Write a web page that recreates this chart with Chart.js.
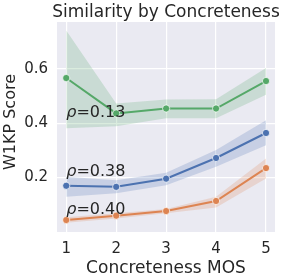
<!DOCTYPE html>
<html>
<head>
<meta charset="utf-8">
<script src="https://cdn.jsdelivr.net/npm/chart.js@4"></script>
<style>
  html, body { margin: 0; padding: 0; background: #fff; }
  #wrap { width: 293px; height: 278px; }
</style>
</head>
<body>
<div id="wrap"><canvas id="chart" width="293" height="278"></canvas></div>
<script>
// Concreteness MOS buckets
const mos = [1, 2, 3, 4, 5];

// mean W1KP score per bucket, plus the shaded CI band
const greenMean = [0.566, 0.436, 0.454, 0.454, 0.555];
const greenHigh = [0.741, 0.472, 0.487, 0.488, 0.603];
const greenLow  = [0.381, 0.389, 0.418, 0.418, 0.505];

const blueMean = [0.170, 0.166, 0.196, 0.272, 0.364];
const blueHigh = [0.203, 0.190, 0.218, 0.301, 0.411];
const blueLow  = [0.130, 0.142, 0.172, 0.240, 0.319];

const orangeMean = [0.044, 0.060, 0.077, 0.114, 0.235];
const orangeHigh = [0.054, 0.069, 0.085, 0.130, 0.270];
const orangeLow  = [0.034, 0.050, 0.069, 0.090, 0.197];

// correlation labels, anchored at x = 1 and these y values
const rhoValues = ['0.13', '0.38', '0.40'];
const rhoY = [0.421, 0.2055, 0.065];

const yTicks = [0.2, 0.4, 0.6];

const FONT = "'DejaVu Sans', sans-serif";

function pts(ys) {
    return mos.map((x, i) => ({ x: x, y: ys[i] }));
}

function band(high, low, color) {
    return [
        { data: pts(high), borderWidth: 0, pointRadius: 0, fill: '+1', backgroundColor: color, order: 2 },
        { data: pts(low), borderWidth: 0, pointRadius: 0, fill: false, order: 2 }
    ];
}

function line(ys, color) {
    return {
        data: pts(ys),
        borderColor: color,
        backgroundColor: color,
        borderWidth: 2,
        pointRadius: 3.6,
        pointBorderColor: '#fff',
        pointBorderWidth: 0.7,
        fill: false,
        order: 1
    };
}

// seaborn darkgrid face + title, axis label and rho text
const decor = {
    id: 'decor',
    beforeDraw(chart) {
        const { ctx, chartArea: a } = chart;
        ctx.save();
        ctx.fillStyle = '#EAEAF2';
        ctx.fillRect(a.left, a.top, a.right - a.left, a.bottom - a.top);
        ctx.restore();
    },
    afterDraw(chart) {
        const { ctx, chartArea: a, scales } = chart;
        ctx.save();
        ctx.fillStyle = '#262626';
        ctx.textAlign = 'center';
        ctx.textBaseline = 'alphabetic';
        ctx.font = '17px ' + FONT;
        ctx.fillText('Similarity by Concreteness', (a.left + a.right) / 2, 17);

        ctx.fillText('Concreteness MOS', (a.left + a.right) / 2, 273);

        ctx.save();
        ctx.font = '16px ' + FONT;
        ctx.translate(15, 122);
        ctx.rotate(-Math.PI / 2);
        ctx.fillText('W1KP Score', 0, 0);
        ctx.restore();

        // mathtext style: italic rho, upright rest
        ctx.textAlign = 'left';
        rhoValues.forEach((v, i) => {
            const x = scales.x.getPixelForValue(1);
            const y = scales.y.getPixelForValue(rhoY[i]);
            ctx.font = 'italic 16px ' + FONT;
            ctx.fillText('ρ', x, y);
            const w = ctx.measureText('ρ').width;
            ctx.font = '16px ' + FONT;
            ctx.fillText('=' + v, x + w, y);
        });
        ctx.restore();
    }
};

new Chart(document.getElementById('chart'), {
    type: 'line',
    data: {
        datasets: [
            ...band(greenHigh, greenLow, 'rgba(85,168,104,0.22)'),
            ...band(blueHigh, blueLow, 'rgba(76,114,176,0.22)'),
            ...band(orangeHigh, orangeLow, 'rgba(221,132,82,0.22)'),
            line(greenMean, '#55A868'),
            line(blueMean, '#4C72B0'),
            line(orangeMean, '#DD8452')
        ]
    },
    options: {
        responsive: false,
        animation: false,
        layout: { padding: { top: 22, right: 18, left: 0, bottom: 0 } },
        plugins: {
            legend: { display: false },
            tooltip: { enabled: false }
        },
        scales: {
            x: {
                type: 'linear',
                min: 0.815,
                max: 5.18,
                afterBuildTicks(scale) { scale.ticks = mos.map(v => ({ value: v })); },
                afterFit(scale) { scale.height = 46; },
                grid: { color: '#ffffff', lineWidth: 1.2, drawTicks: false },
                border: { display: false },
                ticks: { color: '#262626', font: { family: FONT, size: 15 }, padding: 8 }
            },
            y: {
                min: 0.0,
                max: 0.772,
                afterBuildTicks(scale) { scale.ticks = yTicks.map(v => ({ value: v })); },
                afterFit(scale) { scale.width = 57; },
                grid: { color: '#ffffff', lineWidth: 1.2, drawTicks: false },
                border: { display: false },
                ticks: {
                    color: '#262626',
                    font: { family: FONT, size: 15 },
                    padding: 9,
                    callback: v => v.toFixed(1)
                }
            }
        }
    },
    plugins: [decor]
});
</script>
</body>
</html>
